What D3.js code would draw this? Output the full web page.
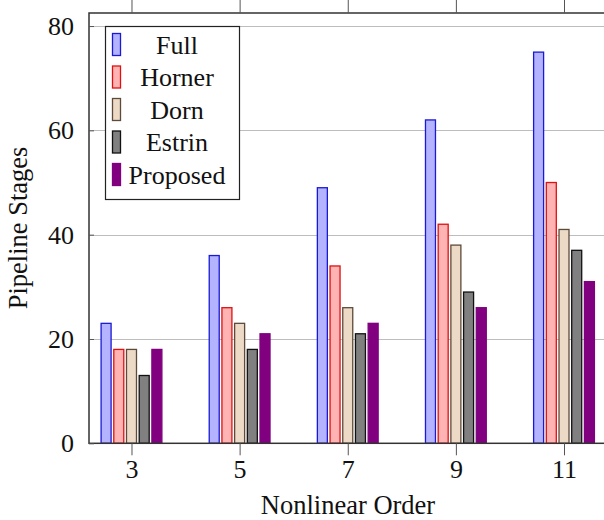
<!DOCTYPE html>
<html>
<head>
<meta charset="utf-8">
<script src="https://cdn.jsdelivr.net/npm/d3@7"></script>
<style>
	body { margin: 0; background: #fff; }
	text { font-family: "Liberation Serif", "Times New Roman", serif; fill: #111; }
</style>
</head>
<body>
<div id="svg-container"></div>
<script>
var width = 604;
var height = 520;

var orders = [3, 5, 7, 9, 11];
var seriesNames = ["Full", "Horner", "Dorn", "Estrin", "Proposed"];
var full = [23, 36, 49, 62, 75];
var horner = [18, 26, 34, 42, 50];
var dorn = [18, 23, 26, 38, 41];
var estrin = [13, 18, 21, 29, 37];
var proposed = [18, 21, 23, 26, 31];
var yTicks = [0, 20, 40, 60, 80];

var fills = ["#b3b3ff", "#ffb3b3", "#ecd9c6", "#808080", "#800080"];
var strokes = ["#1a1ad6", "#e01010", "#5e4a3a", "#111111", "#800080"];

var series = [full, horner, dorn, estrin, proposed];

// plot area edges (window.top is taken, so prefixed names)
var plotLeft = 89, plotRight = 606.5, plotTop = 13, plotBottom = 443.3;

var svg = d3.select("#svg-container").append("svg")
	.attr("width", width)
	.attr("height", height);

var x = d3.scaleLinear()
	.domain([2.214, 11.786])
	.range([plotLeft, plotRight]);

var y = d3.scaleLinear()
	.domain([0, 82.5])
	.range([plotBottom, plotTop]);

// offsets of each series inside a group
var shift = d3.scalePoint()
	.domain(seriesNames)
	.range([-25.4, 25.4]);
var barWidth = 11;

// grid lines
svg.append("g")
	.selectAll("line")
	.data(yTicks.slice(1))
	.enter()
	.append("line")
	.attr("x1", plotLeft)
	.attr("x2", plotRight)
	.attr("y1", function(d) { return Math.round(y(d)) + 0.5; })
	.attr("y2", function(d) { return Math.round(y(d)) + 0.5; })
	.attr("stroke", "#bdbdbd")
	.attr("stroke-width", 1);

// bars
series.forEach(function(values, s) {
	svg.append("g")
		.selectAll("rect")
		.data(values)
		.enter()
		.append("rect")
		.attr("x", function(d, i) { return x(orders[i]) + shift(seriesNames[s]) - barWidth / 2 + 0.5; })
		.attr("y", function(d) { return y(d); })
		.attr("width", barWidth - 1)
		.attr("height", function(d) { return y(0) - y(d); })
		.attr("fill", fills[s])
		.attr("stroke", strokes[s])
		.attr("stroke-width", 1.3);
});

// frame
svg.append("rect")
	.attr("x", plotLeft)
	.attr("y", plotTop)
	.attr("width", plotRight - plotLeft)
	.attr("height", plotBottom - plotTop)
	.attr("fill", "none")
	.attr("stroke", "#333")
	.attr("stroke-width", 1.5);

// x ticks, bottom and top, pointing out
var xAxis = d3.axisBottom(x)
	.tickValues(orders)
	.tickSize(12)
	.tickPadding(6)
	.tickFormat(d3.format("d"));

var gx = svg.append("g")
	.attr("transform", "translate(0," + plotBottom + ")")
	.call(xAxis);
gx.select(".domain").remove();
gx.selectAll("line").attr("stroke", "#555");
gx.selectAll("text")
	.attr("font-size", 26)
	.attr("dy", "0.64em")
	.style("font-family", "'Liberation Serif', 'Times New Roman', serif")
	.attr("fill", "#111");

var gxTop = svg.append("g")
	.attr("transform", "translate(0," + plotTop + ")")
	.call(d3.axisTop(x).tickValues(orders).tickSize(13).tickFormat(""));
gxTop.select(".domain").remove();
gxTop.selectAll("line").attr("stroke", "#555");

// y ticks, inside
var gy = svg.append("g")
	.attr("transform", "translate(" + plotLeft + ",0)")
	.call(d3.axisLeft(y).tickValues(yTicks).tickSize(-5).tickPadding(15));
gy.select(".domain").remove();
gy.selectAll("line").attr("stroke", "#555");
gy.selectAll("text")
	.attr("font-size", 26)
	.attr("dy", "0.33em")
	.style("font-family", "'Liberation Serif', 'Times New Roman', serif")
	.attr("fill", "#111");

// axis labels
svg.append("text")
	.attr("x", 348)
	.attr("y", 514)
	.attr("text-anchor", "middle")
	.attr("font-size", 26.5)
	.text("Nonlinear Order");

svg.append("text")
	.attr("transform", "translate(27,228) rotate(-90)")
	.attr("text-anchor", "middle")
	.attr("font-size", 26.5)
	.text("Pipeline Stages");

// legend
var legend = svg.append("g");
legend.append("rect")
	.attr("x", 105.5)
	.attr("y", 26.5)
	.attr("width", 134)
	.attr("height", 173)
	.attr("fill", "#fff")
	.attr("stroke", "#222")
	.attr("stroke-width", 1.2);

var rows = legend.selectAll("g.row")
	.data(seriesNames)
	.enter()
	.append("g")
	.attr("class", "row")
	.attr("transform", function(d, i) { return "translate(0," + (44.5 + i * 32.5) + ")"; });

rows.append("rect")
	.attr("x", 112.5)
	.attr("y", -11)
	.attr("width", 8)
	.attr("height", 22)
	.attr("fill", function(d, i) { return fills[i]; })
	.attr("stroke", function(d, i) { return strokes[i]; })
	.attr("stroke-width", 1.3);

rows.append("text")
	.attr("x", 177)
	.attr("y", 9)
	.attr("text-anchor", "middle")
	.attr("font-size", 26)
	.text(function(d) { return d; });
</script>
</body>
</html>
